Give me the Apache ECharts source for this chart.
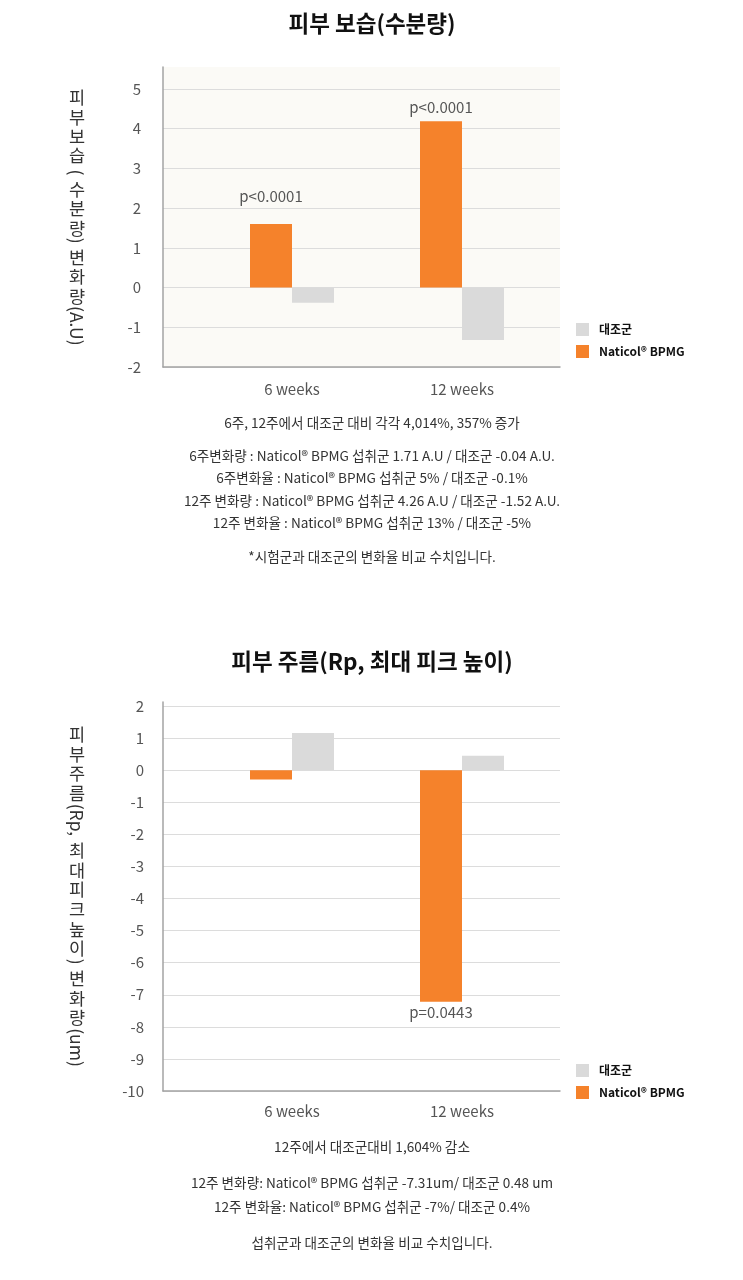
<!DOCTYPE html>
<html><head><meta charset="utf-8">
<script src="https://cdn.jsdelivr.net/npm/echarts@6/dist/echarts.min.js"></script>
<style>html,body{margin:0;padding:0;background:#fff}#c{width:743px;height:1280px}</style>
</head><body><div id="c"></div>
<script>
const categories = ['6 weeks', '12 weeks'];
const seriesNames = ['Naticol® BPMG', '대조군'];
const moistNaticol = [1.6, 4.19];
const moistControl = [-0.38, -1.32];
const moistP = ['p<0.0001', 'p<0.0001'];
const wrinkleNaticol = [-0.29, -7.22];
const wrinkleControl = [1.16, 0.45];
const wrinkleP = ['', 'p=0.0443'];
const title1 = '피부 보습(수분량)';
const title2 = '피부 주름(Rp, 최대 피크 높이)';
const yName1 = '피부보습 ( 수분량) 변화량(A.U)';
const yName2 = '피부주름(Rp, 최대피크높이) 변화량(um)';
const notes1 = ['6주, 12주에서 대조군 대비 각각 4,014%, 357% 증가'];
const notes1b = ['6주변화량 : Naticol® BPMG 섭취군 1.71 A.U / 대조군 -0.04 A.U.',
  '6주변화율 : Naticol® BPMG 섭취군 5% / 대조군 -0.1%',
  '12주 변화량 : Naticol® BPMG 섭취군 4.26 A.U / 대조군 -1.52 A.U.',
  '12주 변화율 : Naticol® BPMG 섭취군 13% / 대조군 -5%'];
const notes1c = ['*시험군과 대조군의 변화율 비교 수치입니다.'];
const notes2 = ['12주에서 대조군대비 1,604% 감소'];
const notes2b = ['12주 변화량: Naticol® BPMG 섭취군 -7.31um/ 대조군 0.48 um',
  '12주 변화율: Naticol® BPMG 섭취군 -7%/ 대조군 0.4%'];
const notes2c = ['섭취군과 대조군의 변화율 비교 수치입니다.'];

const FONT = '"Noto Sans CJK KR", "Noto Sans", sans-serif';
const ORANGE = '#f5822b';
const GREY = '#dadada';
const W = 743, H = 1280;

const chart = echarts.init(document.getElementById('c'), null, {renderer: 'canvas'});

function grids(topA, topC, bottomY) {
  const bottom = H - bottomY;
  return [
    {left: 163, right: W - 560, top: topA, bottom: bottom, show: false},
    {left: 163, right: W - 560, top: topC, bottom: bottom, show: false},
    {left: 207, right: W - 547, top: topC, bottom: bottom, show: false}
  ];
}

const g1 = grids(67, 89, 367);
const g2 = grids(702, 706, 1091);
const bg1 = '#fbfaf6';

function pData(vals, labels, pos, dists) {
  return vals.map((v, i) => labels[i] ? {
    value: v,
    label: {show: true, formatter: labels[i], position: pos, distance: dists[i],
      fontSize: 15, color: '#555', fontFamily: FONT}
  } : v);
}

const legendText = {fontSize: 12, fontWeight: 'bold', color: '#111', fontFamily: FONT, padding: [0, 0, 0, 5]};

const option = {
  backgroundColor: '#fff',
  animation: false,
  textStyle: {fontFamily: FONT},
  grid: g1.concat(g2),
  graphic: [
    {type: 'rect', shape: {x: 163, y: 67, width: 397, height: 300}, style: {fill: bg1}, z: -10, silent: true}
  ],
  legend: [
    {data: ['대조군', 'Naticol® BPMG'], orient: 'vertical', left: 571, top: 318, itemWidth: 13, itemHeight: 13, itemGap: 9,
      icon: 'rect', textStyle: legendText, selectedMode: false},
    {data: ['대조군', 'Naticol® BPMG'], orient: 'vertical', left: 571, top: 1059, itemWidth: 13, itemHeight: 13, itemGap: 9,
      icon: 'rect', textStyle: legendText, selectedMode: false}
  ],
  xAxis: [
    {gridIndex: 0, type: 'category', data: [''], axisLine: {show: true, onZero: false, lineStyle: {color: '#a3a3a3', width: 1.5}}, axisTick: {show: false}, axisLabel: {show: false}, z: 5},
    {gridIndex: 1, type: 'category', data: [''], show: false},
    {gridIndex: 2, type: 'category', data: categories, axisLine: {show: false}, axisTick: {show: false},
      axisLabel: {fontSize: 15, color: '#555', margin: 15, fontFamily: FONT}},
    {gridIndex: 3, type: 'category', data: [''], axisLine: {show: true, onZero: false, lineStyle: {color: '#a3a3a3', width: 1.5}}, axisTick: {show: false}, axisLabel: {show: false}, z: 5},
    {gridIndex: 4, type: 'category', data: [''], show: false},
    {gridIndex: 5, type: 'category', data: categories, axisLine: {show: false}, axisTick: {show: false},
      axisLabel: {fontSize: 15, color: '#555', margin: 13, fontFamily: FONT}}
  ],
  yAxis: [
    {gridIndex: 0, type: 'value', min: -2, max: 5.55, axisLine: {show: true, lineStyle: {color: '#a3a3a3', width: 1.5}},
      axisTick: {show: false}, axisLabel: {show: false}, splitLine: {show: false}, z: 5},
    {gridIndex: 1, type: 'value', min: -2, max: 5, interval: 1, axisLine: {show: false}, axisTick: {show: false},
      axisLabel: {fontSize: 15, color: '#555', margin: 22, fontFamily: FONT},
      splitLine: {show: true, lineStyle: {color: '#dcdcdc', width: 1.2}}},
    {gridIndex: 2, type: 'value', min: -2, max: 5, show: false, splitLine: {show: false}},
    {gridIndex: 3, type: 'value', min: -10, max: 2.12, axisLine: {show: true, lineStyle: {color: '#a3a3a3', width: 1.5}},
      axisTick: {show: false}, axisLabel: {show: false}, splitLine: {show: false}, z: 5},
    {gridIndex: 4, type: 'value', min: -10, max: 2, interval: 1, axisLine: {show: false}, axisTick: {show: false},
      axisLabel: {fontSize: 15, color: '#555', margin: 19, fontFamily: FONT},
      splitLine: {show: true, lineStyle: {color: '#dcdcdc', width: 1.2}}},
    {gridIndex: 5, type: 'value', min: -10, max: 2, show: false, splitLine: {show: false}}
  ],
  series: [
    {name: seriesNames[0], type: 'bar', xAxisIndex: 2, yAxisIndex: 2, barWidth: 42, barGap: '0%', itemStyle: {color: ORANGE},
      data: pData(moistNaticol, moistP, 'top', [20, 6])},
    {name: seriesNames[1], type: 'bar', xAxisIndex: 2, yAxisIndex: 2, barWidth: 42, barGap: '0%', itemStyle: {color: GREY},
      data: moistControl},
    {name: seriesNames[0], type: 'bar', xAxisIndex: 5, yAxisIndex: 5, barWidth: 42, barGap: '0%', itemStyle: {color: ORANGE},
      data: pData(wrinkleNaticol, wrinkleP, 'bottom', [3, 3])},
    {name: seriesNames[1], type: 'bar', xAxisIndex: 5, yAxisIndex: 5, barWidth: 42, barGap: '0%', itemStyle: {color: GREY},
      data: wrinkleControl}
  ]
};

function textEl(str, y, size, weight, color) {
  return {type: 'text', x: 372, y: y, silent: true,
    style: {text: str, fill: color, font: weight + ' ' + size + 'px ' + FONT, textAlign: 'center', textVerticalAlign: 'middle'}};
}

// vertical writing: Hangul upright, other runs rotated 90deg clockwise
const measureCtx = document.createElement('canvas').getContext('2d');
function verticalName(str, cx, cy, size, pitch, totalLen) {
  const font = 'normal ' + size + 'px ' + FONT;
  measureCtx.font = font;
  const runs = [];
  let buf = '';
  for (const ch of str) {
    if (/[\uac00-\ud7a3]/.test(ch)) {
      if (buf) { runs.push({t: buf, up: false}); buf = ''; }
      runs.push({t: ch, up: true});
    } else buf += ch;
  }
  if (buf) runs.push({t: buf, up: false});
  runs.forEach(r => { r.len = r.up ? pitch : measureCtx.measureText(r.t).width; });
  let total = runs.reduce((s, r) => s + r.len, 0);
  const k = totalLen ? totalLen / total : 1;
  let y = cy - total * k / 2;
  const els = [];
  runs.forEach(r => {
    const mid = y + r.len * k / 2;
    if (r.up) {
      els.push({type: 'text', x: cx, y: mid, silent: true,
        style: {text: r.t, fill: '#333', font: font, textAlign: 'center', textVerticalAlign: 'middle'}});
    } else {
      els.push({type: 'text', x: cx, y: mid, rotation: -Math.PI / 2, silent: true,
        style: {text: r.t, fill: '#333', font: font, textAlign: 'center', textVerticalAlign: 'middle'}});
    }
    y += r.len * k;
  });
  return els;
}

option.graphic.push(...verticalName(yName1, 77, 217, 17.5, 19, 258));
option.graphic.push(...verticalName(yName2, 77, 896, 17.5, 19, 343));
option.graphic.push(textEl(title1, 23, 22.5, 'bold', '#111'));
option.graphic.push(textEl(title2, 661, 22.5, 'bold', '#111'));
notes1.forEach((t, i) => option.graphic.push(textEl(t, 423, 13.6, 'normal', '#333')));
notes1b.forEach((t, i) => option.graphic.push(textEl(t, 456 + i * 22.3, 13.6, 'normal', '#333')));
notes1c.forEach((t, i) => option.graphic.push(textEl(t, 557, 13.6, 'normal', '#333')));
notes2.forEach((t, i) => option.graphic.push(textEl(t, 1147, 13.6, 'normal', '#333')));
notes2b.forEach((t, i) => option.graphic.push(textEl(t, 1183 + i * 24, 13.6, 'normal', '#333')));
notes2c.forEach((t, i) => option.graphic.push(textEl(t, 1243, 13.6, 'normal', '#333')));

chart.setOption(option);
</script></body></html>
